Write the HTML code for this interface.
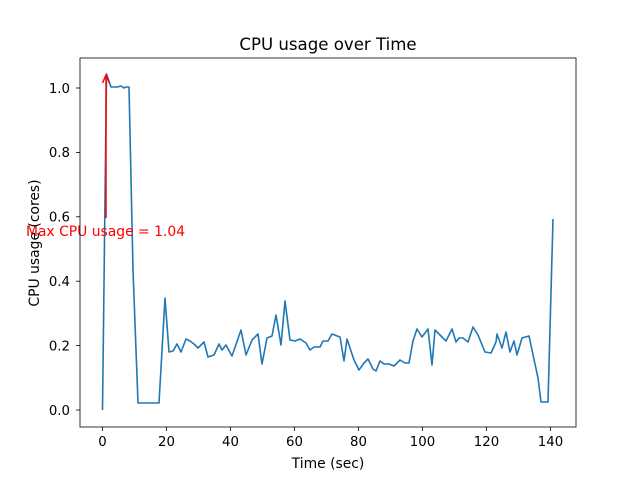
<!DOCTYPE html>
<html><head><style>body{margin:0;background:#fff}</style></head><body>
<svg width="640" height="480" xmlns="http://www.w3.org/2000/svg" font-family="DejaVu Sans, sans-serif" font-size="13">
<rect width="640" height="480" fill="#fff"/>
<polyline fill="none" stroke="#1f77b4" stroke-width="1.6" stroke-linejoin="round" points="102.5,410 106.5,74 111,87 117,87 121,86 124,88 126,87 129,87 133,270 138,403 159,403 165,298 169,352 173,351 177,344 181,352 186,339 190,341 194,344 198,348 204,342 208,357 214,355 219,344 222,350 226,345 232,356 241,330 246,355 252,340 258,334 262,364 267,338 272,336 276,315 281,345 285,301 290,340 295,341 300,339 306,343 310,350 314,347 318,347 320,347 323,341 328,341 332,334 340,337 344,361 347,339 354,360 359,370 364,363 368,359 373,369 376,371 380,361 384,364 389,364 394,366 400,360 405,363 409,363 413,341 417,329 422,337 428,329 432,365 435,330 446,341 452,329 456,342 459,338 463,338 468,342 473,327 478,335 485,352 491,353 496,342 497,334 502,348 506,332 510,352 514,341 517,355 522,338 529,336 538,378 541,402 548,402 553,219"/>
<line x1="106" y1="218" x2="106" y2="76" stroke="red" stroke-width="1.5"/>
<polyline points="102.5,83 106,75 109.5,83" fill="none" stroke="red" stroke-width="1.5"/>
<text x="105.5" y="236" fill="red" font-size="13.9" text-anchor="middle">Max CPU usage = 1.04</text>
<rect x="80" y="58" width="496" height="369" fill="none" stroke="#000" stroke-width="0.8"/>
<g stroke="#000" stroke-width="0.8">
<line x1="102.5" y1="427" x2="102.5" y2="431"/><line x1="166.5" y1="427" x2="166.5" y2="431"/><line x1="230.5" y1="427" x2="230.5" y2="431"/><line x1="294.5" y1="427" x2="294.5" y2="431"/><line x1="358.5" y1="427" x2="358.5" y2="431"/><line x1="422.5" y1="427" x2="422.5" y2="431"/><line x1="486.5" y1="427" x2="486.5" y2="431"/><line x1="550.5" y1="427" x2="550.5" y2="431"/>
<line x1="76" y1="410" x2="80" y2="410"/><line x1="76" y1="345.6" x2="80" y2="345.6"/><line x1="76" y1="281.2" x2="80" y2="281.2"/><line x1="76" y1="216.8" x2="80" y2="216.8"/><line x1="76" y1="152.4" x2="80" y2="152.4"/><line x1="76" y1="88" x2="80" y2="88"/>
</g>
<g font-size="13.3" text-anchor="middle">
<text x="102.5" y="446">0</text><text x="166.5" y="446">20</text><text x="230.5" y="446">40</text><text x="294.5" y="446">60</text><text x="358.5" y="446">80</text><text x="422.5" y="446">100</text><text x="486.5" y="446">120</text><text x="550.5" y="446">140</text>
</g>
<g font-size="13.3" text-anchor="end">
<text x="70" y="415">0.0</text><text x="70" y="350.5">0.2</text><text x="70" y="286">0.4</text><text x="70" y="221.5">0.6</text><text x="70" y="157">0.8</text><text x="70" y="93">1.0</text>
</g>
<text x="328" y="468" font-size="13.9" text-anchor="middle">Time (sec)</text>
<text transform="translate(39,243) rotate(-90)" font-size="13.9" text-anchor="middle">CPU usage (cores)</text>
<text x="328" y="50" font-size="16.6" text-anchor="middle">CPU usage over Time</text>
</svg>
</body></html>
